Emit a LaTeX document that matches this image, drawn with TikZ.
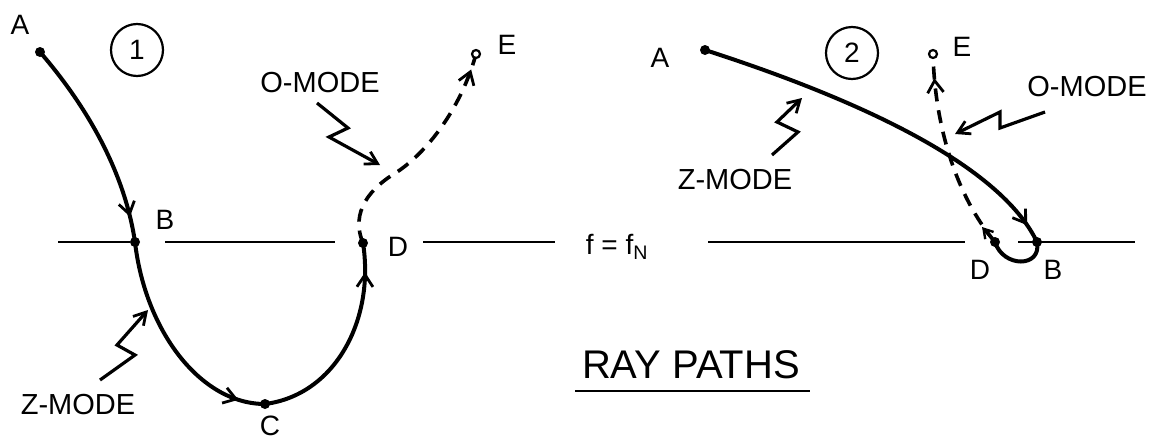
\documentclass[tikz,border=0pt]{standalone}
\usepackage{fontspec}
\setmainfont{Liberation Sans}
\usetikzlibrary{arrows.meta,decorations.markings}
\tikzset{
  lab/.style={font=\fontsize{28}{32}\selectfont, inner sep=0pt},
  modelab/.style={font=\fontsize{29}{34}\selectfont, inner sep=0pt},
  ray/.style={line width=4pt, line cap=round},
  oray/.style={line width=3.6pt, dash pattern=on 13pt off 9pt},
  fline/.style={line width=1.5pt},
  pt/.style={circle, fill=black, inner sep=0pt, minimum size=10pt},
  ptend/.style={circle, draw=black, fill=white, line width=2.2pt, inner sep=0pt, minimum size=8pt},
  pointer/.style={line width=3.2pt, -{Straight Barb[length=12pt,width=14pt,line width=2.8pt]}},
  midarrow/.style={postaction={decorate}, decoration={markings,
     mark=at position #1 with {\arrow{Straight Barb[length=12pt,width=16pt,line width=2.8pt]}}}},
  numcirc/.style={circle, draw, line width=2.2pt, minimum size=52pt, inner sep=0pt,
     font=\fontsize{28}{32}\selectfont}
}
\begin{document}
\begin{tikzpicture}[x=1pt,y=-1pt]
\useasboundingbox (0,0) rectangle (1155,442);

% ---------- level line f = f_N ----------
\node[lab] (fN) at (617,247) {f = f\textsubscript{N}};
\coordinate (h1a) at (58,242);   \coordinate (h1b) at (130,242);
\coordinate (h2a) at (165,242);  \coordinate (h2b) at (335,242);
\coordinate (h3a) at (423,242);  \coordinate (h3b) at (555,242);
\coordinate (h4a) at (708,242);  \coordinate (h4b) at (965,242);
\coordinate (h5a) at (1018,242); \coordinate (h5b) at (1135,242);
\draw[fline] (h1a) -- (h1b);
\draw[fline] (h2a) -- (h2b);
\draw[fline] (h3a) -- (h3b);
\draw[fline] (h4a) -- (h4b);
\draw[fline] (h5a) -- (h5b);

% ---------- panel 1 ----------
\node[numcirc] (n1) at (137,50) {1};
\coordinate (A1) at (40,52);
\coordinate (B1) at (135,242);
\coordinate (C1) at (265,404);
\coordinate (D1) at (363,243);
\coordinate (E1) at (476,54);
\coordinate (M1) at (397,172);

\draw[ray, midarrow=0.88] (A1) .. controls (90,110) and (125,175) .. (B1);
\draw[ray, midarrow=0.88] (B1) .. controls (145,330) and (200,404) .. (C1);
\draw[ray, midarrow=0.86] (C1) .. controls (335,395) and (375,320) .. (D1);
\draw[oray, midarrow=0.93] (D1) .. controls (350,212) and (370,188) .. (M1)
      .. controls (430,150) and (462,105) .. (E1);

\node[pt] (pA1) at (A1) {};
\node[pt] (pB1) at (B1) {};
\node[pt] (pC1) at (C1) {};
\node[pt] (pD1) at (D1) {};
\node[ptend] (pE1) at (E1) {};

\node[lab] (lA1) at (20,25) {A};
\node[lab] (lB1) at (165,220) {B};
\node[lab] (lC1) at (270,426) {C};
\node[lab] (lD1) at (398,247) {D};
\node[lab] (lE1) at (507,45) {E};

\node[modelab] (O1) at (320,83) {O-MODE};
\coordinate (o1a) at (317,103);
\coordinate (o1b) at (348,128);
\coordinate (o1c) at (329,137);
\coordinate (o1d) at (380,165);
\draw[pointer] (o1a) -- (o1b) -- (o1c) -- (o1d);

\node[modelab] (Z1) at (78,405) {Z-MODE};
\coordinate (z1a) at (100,380);
\coordinate (z1b) at (135,355);
\coordinate (z1c) at (117,345);
\coordinate (z1d) at (148,310);
\draw[pointer] (z1a) -- (z1b) -- (z1c) -- (z1d);

% ---------- panel 2 ----------
\node[numcirc] (n2) at (852,53) {2};
\coordinate (A2) at (705,50);
\coordinate (B2) at (1037,242);
\coordinate (D2) at (995,242);
\coordinate (E2) at (933,54);

\draw[ray, midarrow=0.95] (A2) .. controls (860,100) and (1000,165) .. (B2);
\draw[ray] (B2) .. controls (1042,268) and (1003,268) .. (D2);
\draw[oray, midarrow=0.88] (D2) .. controls (958,198) and (935,130) .. (E2);
\draw[line width=3pt, -{Straight Barb[length=9pt,width=11pt,line width=2.4pt]}] (D2) -- (982,227);

\node[pt] (pA2) at (A2) {};
\node[pt] (pB2) at (B2) {};
\node[pt] (pD2) at (D2) {};
\node[ptend] (pE2) at (E2) {};

\node[lab] (lA2) at (660,58) {A};
\node[lab] (lB2) at (1053,270) {B};
\node[lab] (lD2) at (980,270) {D};
\node[lab] (lE2) at (962,47) {E};

\node[modelab] (O2) at (1087,87) {O-MODE};
\coordinate (o2a) at (1045,112);
\coordinate (o2b) at (1000,128);
\coordinate (o2c) at (1000,112);
\coordinate (o2d) at (955,134);
\draw[pointer] (o2a) -- (o2b) -- (o2c) -- (o2d);

\node[modelab] (Z2) at (735,180) {Z-MODE};
\coordinate (z2a) at (772,155);
\coordinate (z2b) at (798,132);
\coordinate (z2c) at (777,122);
\coordinate (z2d) at (802,98);
\draw[pointer] (z2a) -- (z2b) -- (z2c) -- (z2d);

% ---------- title ----------
\node[font=\fontsize{40}{46}\selectfont, inner sep=0pt] (title) at (691,365) {RAY PATHS};
\coordinate (ul1) at (575,391);
\coordinate (ul2) at (810,391);
\draw[line width=2.2pt] (ul1) -- (ul2);
\end{tikzpicture}
\end{document}
